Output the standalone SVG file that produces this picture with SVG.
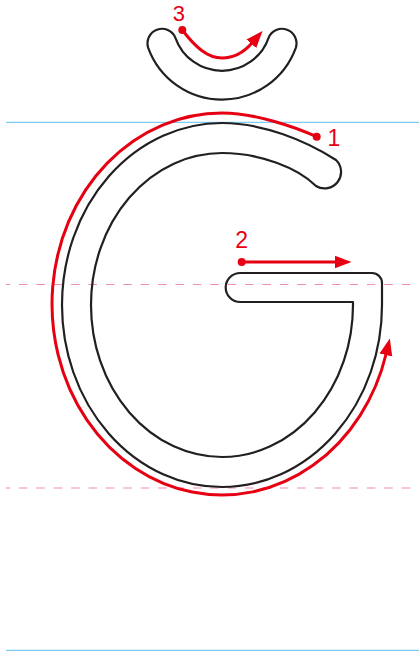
<svg xmlns="http://www.w3.org/2000/svg" width="419" height="659" viewBox="0 0 419 659">
<style>
.guide{stroke:#7ccdf1;stroke-width:1.2;fill:none}
.dash{stroke:#f08cb4;stroke-width:1.2;fill:none;stroke-dasharray:8.5 8.9;stroke-dashoffset:4.5}
.outline{fill:none;stroke:#231f20;stroke-width:2.2;stroke-linejoin:round}
.red{fill:none;stroke:#e60012;stroke-width:3}
.dot{fill:#e60012}
.num{font-family:"Liberation Sans",Arial,sans-serif;font-size:23px;fill:#e60012}
</style>
<defs>
<marker id="ah" markerUnits="userSpaceOnUse" viewBox="0 -7 17 14" markerWidth="17" markerHeight="14" refX="1" refY="0" orient="auto">
<path d="M0,-6.5 L17,0 L0,6.5 Z" fill="#e60012"/>
</marker>
</defs>
<g id="guides">
<line class="guide" x1="6" y1="122.3" x2="419" y2="122.3"/>
<line class="dash" x1="6" y1="284.5" x2="419" y2="284.5"/>
<line class="dash" x1="6" y1="488" x2="419" y2="488"/>
<line class="guide" x1="6" y1="650.3" x2="419" y2="650.3"/>
</g>
<g id="letter-g">
<path class="outline" d="M336,160 C305,140 262,123 222,123 A160,182 0 1 0 382,305 L382,283 A10,10 0 0 0 372,273 L240.2,273 A14.5,14.5 0 0 0 240.2,302 L353,302 L353,305 A131,152 0 1 1 222,153 C260,153 298,168 316,186 A16.5,16.5 0 0 0 336,160 Z"/>
</g>
<g id="breve">
<path class="outline" d="M175.4,37.8 A49.4,49.4 0 0 0 268.6,37.8 A14.5,14.5 0 0 1 295.8,47.8 A78.5,78.5 0 0 1 148.2,47.8 A14.5,14.5 0 0 1 175.4,37.8 Z"/>
</g>
<g id="connectors">
<g id="stroke1">
<path class="red" d="M316.7,136.7 C295,127 255,113 222,113 A170,191 0 1 0 386.1,354" marker-end="url(#ah)"/>
<circle class="dot" cx="316.7" cy="136.7" r="4"/>
</g>
<g id="stroke2">
<path class="red" d="M241.7,262 L335.5,262" marker-end="url(#ah)"/>
<circle class="dot" cx="241.7" cy="262" r="4"/>
</g>
<g id="stroke3">
<path class="red" d="M182.3,30 C196,48 208,58 222,58 C235,58 245,51 252,43" marker-end="url(#ah)"/>
<circle class="dot" cx="182.3" cy="30" r="4"/>
</g>
</g>
<g id="labels">
<text class="num" x="327.5" y="145.7">1</text>
<text class="num" x="235.3" y="247.7">2</text>
<text class="num" x="172.8" y="20.5" style="font-size:22px">3</text>
</g>
</svg>
